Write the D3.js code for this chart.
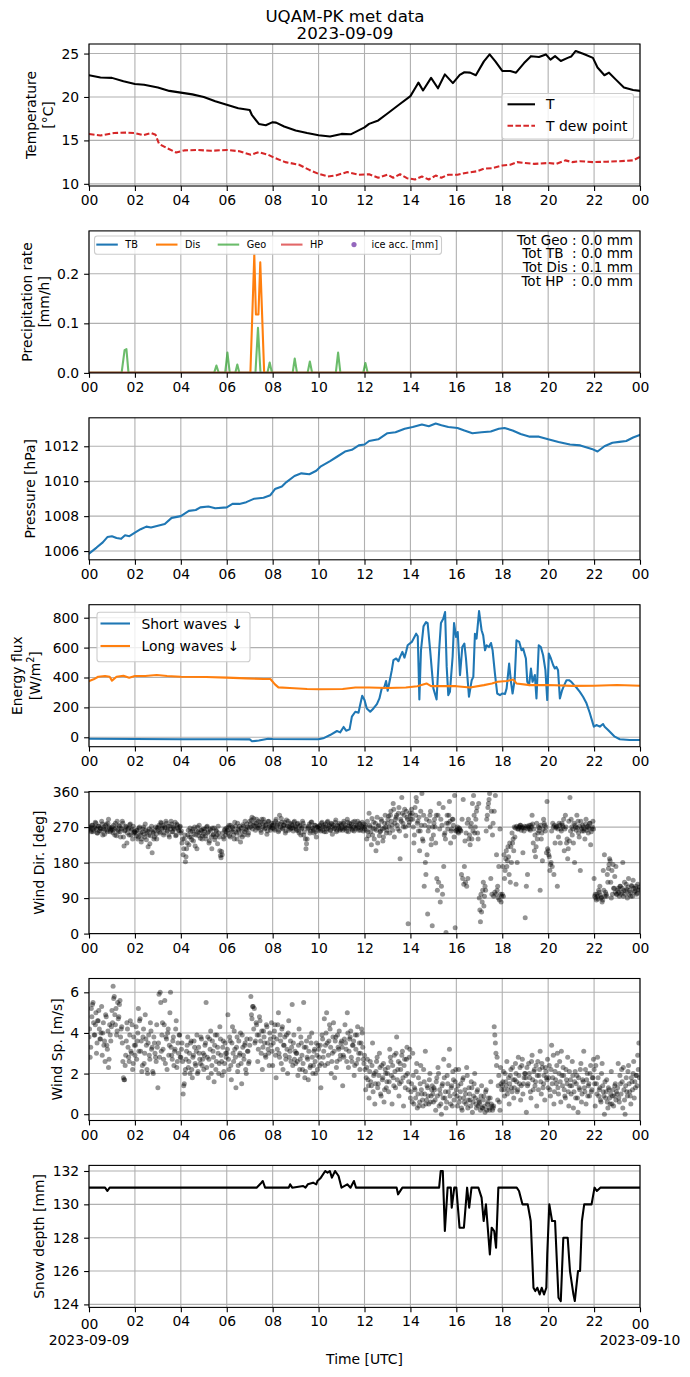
<!DOCTYPE html>
<html><head><meta charset="utf-8">
<script src="https://cdn.jsdelivr.net/npm/d3@7"></script>
<style>body{margin:0;background:#fff}</style>
</head><body><svg id="c" width="690" height="1377" xmlns="http://www.w3.org/2000/svg"></svg>
<script>
// ---------------- DATA ----------------
const hourTicks = [0,2,4,6,8,10,12,14,16,18,20,22,24];
const tempTicks = [10,15,20,25];
const precTicks = [0,0.1,0.2];
const presTicks = [1006,1008,1010,1012];
const fluxTicks = [0,200,400,600,800];
const dirTicks = [0,90,180,270,360];
const spdTicks = [0,2,4,6];
const snowTicks = [124,126,128,130,132];

const tAir = [[0,22.5],[0.5,22.24],[1,22.2],[1.5,21.8],[2,21.5],[2.4,21.4],[3,21.1],[3.5,20.7],[4,20.5],[4.5,20.3],[5,20.0],[5.5,19.5],[6,19.1],[6.5,18.7],[7,18.5],[7.1,17.9],[7.4,16.9],[7.7,16.75],[8,17.1],[8.15,17.05],[8.5,16.6],[9,16.15],[9.5,15.85],[10,15.6],[10.5,15.45],[11,15.75],[11.4,15.7],[12,16.5],[12.2,16.9],[12.6,17.3],[13,18.1],[13.5,19.1],[14,20.1],[14.25,21.2],[14.35,21.65],[14.55,20.75],[14.9,22.2],[15.2,21.0],[15.5,22.6],[15.85,21.6],[16.15,22.55],[16.35,22.85],[16.6,22.8],[16.85,22.5],[17.2,24.1],[17.45,24.9],[17.7,24.1],[18,23.0],[18.35,23.0],[18.6,22.8],[18.95,23.9],[19.25,24.7],[19.6,24.6],[19.9,24.9],[20.1,24.3],[20.3,24.7],[20.55,24.15],[20.85,24.5],[21,24.65],[21.2,25.3],[21.55,24.95],[21.95,24.5],[22.15,23.4],[22.45,22.5],[22.65,22.8],[22.95,22.0],[23.3,21.1],[23.7,20.8],[24,20.7]];
const tDew = [[0,15.73],[0.5,15.57],[1.1,15.85],[1.65,15.9],[2,15.85],[2.35,15.6],[2.7,15.85],[2.9,15.65],[3.05,14.6],[3.4,14.1],[3.8,13.6],[4.15,13.85],[4.7,13.9],[5.3,13.8],[6,13.9],[6.55,13.75],[7.05,13.35],[7.4,13.65],[7.8,13.35],[8.1,12.97],[8.55,12.5],[9.15,12.2],[9.6,11.6],[10,11.15],[10.4,10.85],[10.75,10.97],[11.25,11.35],[11.75,11.05],[12.2,11.1],[12.6,10.7],[13,11.05],[13.25,10.7],[13.55,11.1],[13.85,10.65],[14.2,10.5],[14.5,10.85],[14.8,10.5],[15.1,10.95],[15.35,10.7],[15.65,11.05],[16.05,11.05],[16.4,11.25],[16.9,11.45],[17.2,11.75],[17.55,11.8],[18,12.1],[18.35,12.2],[18.65,12.5],[19.0,12.4],[19.4,12.3],[20,12.4],[20.35,12.3],[20.75,12.7],[21.05,12.5],[21.4,12.6],[21.95,12.5],[22.55,12.55],[23.1,12.6],[23.7,12.7],[24,13.1]];

const precTB = [[0,0],[24,0]];
const precDis = [[0,0],[7.03,0],[7.2,0.239],[7.27,0.118],[7.38,0.118],[7.46,0.223],[7.63,0],[24,0]];
const precGeo = [[0,0],[1.42,0],[1.55,0.046],[1.63,0.048],[1.72,0],[5.45,0],[5.55,0.015],[5.65,0],[5.93,0],[6.03,0.041],[6.13,0],[6.37,0],[6.46,0.017],[6.55,0],[7.25,0],[7.36,0.091],[7.47,0],[7.77,0],[7.87,0.021],[7.97,0],[8.87,0],[8.96,0.029],[9.06,0],[9.52,0],[9.62,0.023],[9.72,0],[10.75,0],[10.85,0.041],[10.95,0],[11.94,0],[12.04,0.02],[12.14,0],[24,0]];
const precHP = [[0,0],[24,0]];
const totals = ["Tot Geo : 0.0 mm","Tot TB  : 0.0 mm","Tot Dis : 0.1 mm","Tot HP  : 0.0 mm"];

const pressure = [[0,1005.85],[0.33,1006.2],[0.6,1006.5],[0.8,1006.8],[1.0,1006.85],[1.2,1006.75],[1.4,1006.7],[1.57,1006.9],[1.76,1006.85],[2,1007.05],[2.25,1007.25],[2.5,1007.4],[2.7,1007.35],[3.0,1007.45],[3.3,1007.55],[3.6,1007.9],[4,1008.0],[4.35,1008.3],[4.65,1008.35],[4.85,1008.5],[5.2,1008.55],[5.5,1008.45],[6,1008.5],[6.25,1008.7],[6.55,1008.7],[6.85,1008.8],[7.2,1009.0],[7.6,1009.05],[7.9,1009.2],[8.1,1009.55],[8.4,1009.7],[8.6,1009.95],[8.95,1010.3],[9.25,1010.45],[9.6,1010.4],[9.9,1010.6],[10.1,1010.85],[10.5,1011.15],[10.8,1011.4],[11.15,1011.7],[11.45,1011.8],[11.75,1012.05],[12,1012.1],[12.2,1012.3],[12.6,1012.4],[13,1012.75],[13.35,1012.8],[13.75,1013.0],[14.1,1013.1],[14.5,1013.25],[14.8,1013.15],[15.1,1013.3],[15.35,1013.2],[15.65,1013.1],[16.05,1013.05],[16.35,1012.9],[16.7,1012.75],[17.1,1012.8],[17.5,1012.85],[17.85,1013.0],[18.1,1013.05],[18.45,1012.9],[18.8,1012.7],[19.2,1012.55],[19.6,1012.55],[20,1012.4],[20.45,1012.25],[20.95,1012.1],[21.4,1012.05],[21.9,1011.85],[22.15,1011.7],[22.45,1012.0],[22.8,1012.2],[23.1,1012.25],[23.4,1012.3],[23.7,1012.5],[24,1012.65]];

const shortWaves = [[0,-10],[2,-12],[4,-13],[6,-13],[7.0,-14],[7.1,-27],[7.4,-22],[7.8,-10],[8,-12],[10,-13],[10.2,-7],[10.5,15],[10.8,42],[10.94,33],[11.09,69],[11.2,44],[11.35,53],[11.45,138],[11.6,171],[11.74,164],[11.8,209],[11.9,278],[12.0,249],[12.1,193],[12.25,171],[12.39,193],[12.54,222],[12.65,260],[12.75,327],[12.86,333],[12.94,376],[13.01,311],[13.09,371],[13.19,449],[13.26,516],[13.38,527],[13.48,509],[13.55,538],[13.65,571],[13.74,533],[13.81,571],[13.88,616],[14.06,638],[14.25,693],[14.32,676],[14.39,253],[14.46,582],[14.57,742],[14.68,771],[14.75,764],[14.86,582],[15.0,327],[15.14,253],[15.26,604],[15.33,764],[15.43,793],[15.51,838],[15.58,471],[15.65,282],[15.72,304],[15.84,542],[15.9,764],[15.99,671],[16.06,704],[16.16,416],[16.26,604],[16.35,627],[16.42,527],[16.55,271],[16.67,382],[16.74,404],[16.81,693],[16.88,660],[16.99,844],[17.1,716],[17.17,682],[17.25,582],[17.32,616],[17.42,604],[17.51,631],[17.58,582],[17.68,427],[17.78,293],[17.9,282],[18.01,293],[18.12,289],[18.19,327],[18.3,493],[18.38,371],[18.45,293],[18.54,382],[18.62,649],[18.74,638],[18.84,582],[18.91,593],[19.03,527],[19.09,371],[19.17,349],[19.25,460],[19.32,371],[19.42,416],[19.49,260],[19.59,616],[19.68,604],[19.78,549],[19.88,449],[19.96,249],[20.03,560],[20.12,527],[20.22,482],[20.29,460],[20.36,471],[20.43,449],[20.51,260],[20.61,316],[20.7,349],[20.8,382],[20.91,382],[21.01,371],[21.13,349],[21.23,333],[21.38,304],[21.52,271],[21.67,227],[21.81,164],[21.88,127],[21.99,71],[22.1,82],[22.25,71],[22.39,89],[22.46,71],[22.61,49],[22.75,27],[22.9,4],[23.12,-13],[23.55,-18],[24,-18]];
const longWaves = [[0,376],[0.2,388],[0.4,405],[0.7,410],[0.9,405],[1.0,379],[1.2,405],[1.5,412],[1.75,399],[2,410],[2.45,410],[2.95,417],[3.4,410],[4,405],[5.1,403],[6,399],[6.85,394],[7.6,390],[7.9,390],[8.1,354],[8.25,334],[8.75,330],[9.5,323],[10,321],[11.05,323],[11.6,333],[12.2,333],[13,330],[13.8,333],[14.3,342],[14.7,360],[14.9,342],[16,342],[16.6,333],[17.2,349],[17.55,360],[17.8,371],[18.2,376],[18.48,387],[18.62,360],[19.2,349],[20,350],[21.05,344],[22,345],[23,350],[24,345]];

// wind direction: two interleaved sample sets, 20 samples per hour each
const windDirA = [
[265,270,258,275,262,268,280,255,272,260,266,285,250,270,263,278,258,290,268,262],
[270,255,265,280,248,262,275,258,268,285,245,260,272,230,265,250,278,262,240,255],
[258,248,262,245,270,255,240,265,252,278,238,260,250,228,262,205,255,245,270,240],
[262,275,255,280,268,250,270,285,260,272,245,265,278,258,268,282,250,275,262,270],
[255,230,200,240,182,215,250,225,268,245,260,235,270,250,215,258,275,242,262,248],
[252,265,240,272,258,235,262,215,250,268,245,260,228,255,210,192,200,245,262,250],
[268,255,275,245,262,270,250,282,258,240,265,272,232,260,276,250,285,262,270,255],
[285,270,295,275,280,262,290,272,268,282,256,278,290,265,275,252,284,270,262,280],
[268,280,262,290,275,258,300,270,282,265,276,255,288,272,262,280,268,275,260,285],
[270,262,280,255,275,265,285,250,272,215,240,268,278,260,283,266,255,275,245,270],
[268,275,260,282,270,258,278,265,285,272,262,280,252,275,268,288,262,272,280,265],
[275,262,285,270,268,290,258,280,272,265,283,260,275,270,285,262,278,268,282,260],
[265,275,240,258,305,270,225,250,282,265,210,295,272,248,260,285,235,268,300,255],
[280,298,255,310,275,330,245,290,300,265,320,190,285,305,270,315,248,295,25,282],
[300,315,290,230,320,345,280,260,210,310,355,235,120,180,290,50,270,300,225,20],
[250,290,230,140,300,330,80,120,100,170,255,3,300,280,335,230,265,290,245,15],
[262,270,255,265,260,290,340,170,130,120,140,240,225,280,330,350,255,290,320,240],
[90,30,55,110,70,120,260,300,330,355,140,100,280,310,350,200,120,170,265,80],
[100,95,140,190,170,220,150,130,180,230,210,245,125,180,265,270,275,268,205,260],
[40,120,150,270,265,275,300,230,210,195,280,255,260,110,240,185,290,275,270,335],
[210,195,175,260,280,150,230,270,120,245,275,265,280,270,210,300,230,190,285,345],
[290,250,230,180,270,300,285,245,160,265,275,260,240,290,270,255,280,225,265,285],
[140,100,85,95,110,120,90,80,160,200,105,95,130,175,185,90,100,115,145,170],
[100,115,95,120,105,180,110,100,125,90,140,110,95,120,135,105,115,100,125,110]];
const windDirB = [
[268,262,275,258,270,282,265,255,272,268,260,278,266,252,274,262,280,270,258,265],
[262,275,250,268,285,258,272,245,265,280,222,262,270,255,268,276,250,265,272,258],
[255,262,240,268,250,232,258,270,245,262,255,220,265,248,272,258,240,262,252,268],
[270,258,282,265,275,255,268,280,262,250,272,285,258,270,265,248,278,268,260,272],
[260,240,215,250,195,230,262,245,258,238,265,252,222,260,270,248,255,262,240,265],
[260,248,270,255,230,265,245,268,252,238,262,250,272,245,198,208,255,240,265,258],
[262,270,248,275,258,265,240,272,255,280,262,250,268,245,272,258,265,278,250,268],
[278,288,265,292,272,280,268,285,275,262,290,270,282,268,278,260,285,272,268,275],
[275,265,285,270,280,262,278,292,268,275,282,260,272,285,270,265,278,268,282,272],
[265,278,260,272,250,268,280,258,240,228,265,272,255,282,268,262,275,258,270,262],
[272,265,280,262,275,270,258,282,268,275,262,278,270,265,282,258,275,268,262,278],
[268,280,265,275,260,282,272,268,278,262,270,285,265,275,268,280,262,272,270,278],
[270,262,285,248,275,258,292,268,240,280,262,230,275,258,290,265,245,280,270,262],
[290,270,300,285,262,315,280,295,275,305,260,290,345,280,300,270,310,290,275,305],
[290,305,270,250,300,335,285,295,260,275,240,300,275,150,200,260,285,310,240,270],
[280,270,300,110,130,265,290,275,320,250,240,280,265,300,285,260,290,275,350,260],
[265,258,268,262,150,140,125,235,255,280,290,250,270,240,260,300,270,310,255,330],
[60,100,80,130,95,110,290,320,340,270,310,250,95,105,100,110,90,85,100,95],
[170,200,160,210,185,195,230,220,255,240,270,268,272,265,270,275,262,270,268,272],
[268,272,265,275,262,270,278,265,250,220,240,270,268,275,255,265,280,260,205,215],
[200,160,180,170,270,275,268,272,265,280,230,260,275,290,265,270,240,215,235,260],
[270,265,280,275,262,268,255,272,285,260,270,265,278,262,272,268,280,258,270,265],
[95,90,100,88,105,98,92,85,110,95,100,150,165,190,130,160,175,115,105,100],
[110,105,120,100,115,95,130,108,112,118,100,105,122,95,115,108,120,102,112,118]];

// wind speed: two interleaved sample sets, 20 samples per hour each
const windSpdA = [
[3.8,2.8,5.2,5.4,4.5,3.9,5.0,3.5,4.6,4.2,3.7,5.3,4.0,3.4,2.6,4.8,3.2,2.3,4.4,3.6],
[5.1,6.3,5.8,4.4,3.9,5.5,4.8,5.6,4.2,3.5,1.8,1.7,2.9,4.5,3.3,2.6,4.6,3.0,2.2,3.8],
[2.9,4.3,3.6,5.2,4.6,3.1,2.1,3.8,2.5,4.9,3.4,2.0,3.9,2.7,4.1,3.3,2.0,3.5,2.8,4.4],
[1.3,5.9,6.0,3.1,4.5,2.7,5.6,3.8,2.2,4.2,3.4,6.0,2.9,3.6,2.4,3.2,4.6,2.6,3.0,3.9],
[2.8,3.5,1.0,1.5,2.2,3.1,3.8,2.6,2.0,3.6,1.8,2.9,3.3,2.4,3.9,2.1,3.0,2.5,3.7,2.7],
[2.2,3.4,5.5,2.8,1.8,3.7,4.1,2.4,3.1,1.6,3.9,2.6,3.3,2.0,4.3,2.9,1.9,3.6,2.5,3.0],
[3.0,4.9,2.2,3.6,1.7,4.3,2.6,3.2,1.3,3.8,2.4,2.9,4.0,1.5,3.3,2.7,3.5,2.0,3.1,2.5],
[3.4,5.8,4.7,5.3,5.2,3.6,4.4,2.6,3.9,4.6,3.0,2.2,4.1,3.5,2.8,4.3,3.2,2.4,3.7,4.5],
[2.4,3.8,4.4,1.8,3.2,5.0,2.8,3.6,4.2,2.2,3.4,2.9,3.9,2.0,4.6,3.1,2.6,5.4,3.5,2.7],
[2.5,3.0,1.9,4.2,2.7,3.5,2.2,5.5,1.8,3.3,2.8,1.7,3.8,2.4,4.0,2.0,3.1,2.6,3.5,2.2],
[3.2,2.4,1.3,3.9,2.8,4.7,3.4,5.0,2.5,3.6,4.2,2.0,3.0,4.5,1.8,3.8,2.6,3.3,4.1,2.9],
[3.6,1.4,2.8,4.4,3.2,5.0,2.3,3.7,4.1,2.6,3.4,1.9,3.9,2.5,4.3,3.0,2.2,3.5,4.0,2.7],
[2.9,1.2,2.3,1.7,0.8,2.6,1.4,3.5,1.9,0.5,2.1,2.8,1.5,3.0,1.0,2.4,1.8,0.6,2.2,1.3],
[2.0,1.1,3.2,2.6,0.5,1.8,2.9,1.3,3.8,2.2,0.9,2.5,1.6,3.1,0.4,2.7,1.9,3.3,1.2,2.8],
[0.8,1.5,3.0,0.5,1.2,2.1,0.3,1.8,0.6,2.4,1.0,0.4,1.6,3.1,0.7,1.3,0.5,2.0,0.9,1.4],
[0.6,1.2,0.2,1.8,2.3,0.4,1.0,0.0,1.5,2.7,0.8,0.3,1.9,1.1,3.2,0.5,1.4,2.1,0.7,1.6],
[1.2,0.4,2.2,0.8,1.5,0.2,1.8,0.6,1.0,2.3,0.3,1.3,0.7,1.6,0.1,0.9,2.0,0.5,1.1,0.4],
[0.6,0.2,1.4,0.3,0.9,0.1,1.2,0.5,0.8,0.2,1.6,0.4,0.3,4.3,3.5,2.4,0.7,1.9,0.2,1.5],
[1.4,2.1,0.9,1.6,2.6,1.2,0.5,1.9,1.3,2.3,0.8,1.7,2.0,1.1,2.8,1.5,0.7,2.4,1.0,1.8],
[2.0,0.1,1.4,2.5,1.8,0.8,2.9,1.2,2.2,1.6,0.4,2.6,1.9,3.1,1.0,2.3,1.5,0.7,2.1,1.7],
[1.3,2.4,0.9,3.4,1.8,0.5,2.1,1.5,3.0,1.0,2.6,0.6,1.9,2.3,1.2,0.8,1.7,2.8,0.4,1.4],
[1.0,2.6,0.3,1.6,0.8,1.9,0.1,1.3,2.2,0.6,1.7,3.1,1.1,0.5,2.0,1.4,0.9,2.4,1.2,1.8],
[2.2,0.4,1.5,2.8,0.9,1.3,0.6,2.5,1.1,0.0,0.8,1.7,0.3,1.2,0.5,2.1,0.9,0.4,1.4,0.7],
[1.0,2.5,0.6,1.5,2.2,0.3,1.2,0.0,1.8,0.9,2.4,1.1,0.5,1.6,2.0,0.8,1.3,1.9,2.9,3.5]];
const windSpdB = [
[4.2,3.3,4.8,5.5,3.9,4.4,3.0,4.6,5.1,3.7,4.0,2.9,4.5,3.6,4.9,3.4,4.1,2.7,3.9,4.3],
[4.5,5.7,4.9,5.2,4.1,4.7,5.4,3.8,4.3,2.6,1.7,2.4,3.6,4.2,2.8,3.9,3.1,4.4,2.5,3.4],
[3.4,2.7,4.0,3.1,4.7,3.6,2.4,4.2,3.0,3.7,2.2,3.5,2.9,4.5,3.2,2.1,3.8,3.0,2.6,3.3],
[3.5,2.8,5.5,3.9,3.2,4.4,2.5,3.7,4.0,2.9,5.0,3.3,2.7,3.8,3.1,4.2,2.3,3.5,3.9,2.8],
[3.2,2.6,1.4,2.0,2.7,3.4,2.3,3.0,3.5,2.2,2.8,3.6,2.5,3.1,2.0,3.3,2.7,3.8,2.4,3.0],
[2.9,3.5,2.3,3.8,2.7,3.2,2.0,3.6,2.8,3.4,2.2,3.9,3.0,2.5,3.7,2.6,3.3,2.1,3.5,2.8],
[3.2,2.7,3.8,2.4,3.5,3.0,4.1,2.8,3.3,2.1,3.6,3.0,2.5,3.9,2.9,3.4,2.2,3.7,3.1,2.6],
[3.7,4.9,5.3,4.2,3.5,4.5,3.9,3.2,4.8,3.6,4.1,3.3,3.8,2.9,4.4,3.5,3.0,4.0,3.4,3.1],
[3.5,4.1,2.9,3.7,4.4,3.0,3.9,2.5,4.3,3.4,3.8,2.7,3.2,4.0,2.8,3.6,3.3,2.4,3.9,3.1],
[3.0,2.6,3.4,2.2,3.8,2.9,2.5,3.3,2.1,3.6,2.7,3.1,2.3,3.5,2.8,2.4,3.2,2.0,2.9,3.4],
[2.8,3.4,2.5,3.7,3.1,2.4,4.0,3.5,2.9,4.4,3.3,2.6,3.8,3.1,3.6,2.3,3.9,3.2,2.7,3.5],
[3.3,2.9,3.7,3.5,2.6,4.0,3.1,3.8,2.8,3.4,3.6,2.4,3.2,3.9,2.7,3.5,3.0,4.2,3.3,2.5],
[2.2,1.8,2.7,1.4,2.1,1.6,2.4,1.1,2.0,1.5,2.6,1.3,1.9,2.3,0.9,1.7,2.5,1.2,2.0,1.6],
[2.3,1.6,2.8,1.9,2.4,1.4,2.1,3.0,1.7,2.6,1.5,2.2,2.9,1.8,2.4,1.3,2.7,2.0,1.6,3.2],
[1.1,0.6,1.9,1.3,0.8,2.5,1.0,0.4,1.5,1.2,0.7,2.2,1.0,0.5,1.4,0.9,1.7,0.6,1.2,1.0],
[1.3,0.7,1.6,0.9,2.0,1.2,0.5,1.4,0.8,1.8,1.1,0.6,1.5,2.4,0.9,1.3,0.4,1.7,1.0,2.2],
[0.9,1.4,0.6,1.1,0.3,1.7,0.8,1.2,0.5,1.9,0.7,1.0,0.4,1.3,0.6,1.5,0.8,0.3,1.2,0.7],
[0.5,0.9,0.3,0.7,0.4,1.1,0.2,0.6,0.3,0.8,0.5,0.2,0.4,3.9,3.0,2.8,1.4,0.6,2.3,1.2],
[1.6,1.2,2.0,1.4,1.0,1.8,1.5,2.2,1.1,1.7,1.3,2.5,1.6,1.2,1.9,2.3,1.4,2.7,1.5,2.0],
[1.8,2.3,1.5,2.0,1.1,2.6,1.7,2.1,1.4,2.4,1.9,1.2,2.2,1.6,2.5,1.3,1.9,2.3,1.8,2.7],
[1.8,1.2,2.2,1.5,2.9,1.1,1.7,2.4,1.3,2.0,1.6,3.1,1.4,1.9,0.9,2.2,1.5,1.1,2.1,1.7],
[1.4,1.9,1.1,2.1,1.5,0.8,1.8,1.2,2.5,1.0,1.6,1.3,2.2,1.7,0.9,1.5,2.0,1.1,1.8,2.7],
[1.5,2.4,1.0,1.8,1.2,0.7,2.0,1.4,0.9,1.6,1.1,0.6,1.3,0.8,1.0,0.5,1.2,0.9,1.5,1.1],
[1.3,0.8,1.9,1.0,1.6,2.3,0.7,1.4,1.1,2.1,1.5,0.9,1.8,1.2,2.6,1.6,1.9,1.4,2.2,1.8]];

const snowDepth = [[0,131],[0.7,131],[0.8,130.8],[0.9,131],[7.3,131],[7.51,131.3],[7.57,131.4],[7.67,131],[8.7,131],[8.76,131.2],[8.85,131],[9.33,131.1],[9.43,131],[9.53,131.2],[9.76,131.3],[9.9,131.2],[9.95,131.4],[10.1,131.6],[10.29,132.0],[10.39,131.9],[10.49,132],[10.58,131.6],[10.72,132],[10.87,131.7],[11.0,131],[11.25,131.2],[11.39,131],[11.54,131.4],[11.63,131],[13.4,131],[13.46,130.6],[13.65,131],[15.25,131],[15.32,132],[15.41,132],[15.5,128.4],[15.62,131],[15.76,131],[15.8,129.8],[15.91,131],[16.0,131],[16.14,128.6],[16.33,128.6],[16.47,131],[16.56,129.8],[16.66,131],[16.96,131],[17.1,130.4],[17.19,129],[17.29,130],[17.46,127],[17.54,128.6],[17.65,128.4],[17.73,127.4],[17.83,131],[18.63,131],[18.73,130.8],[18.88,130],[19.11,130],[19.24,129],[19.36,125],[19.44,124.8],[19.53,125],[19.63,124.6],[19.72,125],[19.82,124.6],[19.92,125],[19.96,127],[20.05,130],[20.17,129],[20.3,129],[20.45,124.4],[20.55,124.2],[20.66,128],[20.85,128],[20.95,126],[21.1,124.6],[21.16,124.2],[21.3,126],[21.39,126],[21.47,129],[21.57,130],[21.89,130],[22.02,131],[22.12,130.8],[22.27,131],[24,131]];

// ---------------- LAYOUT ----------------
const FONT = '"DejaVu Sans", sans-serif';
const FS = 13.9;
const L = 89, R = 640, PH = 142;
const tops = [44, 230.9, 417.8, 604.7, 791.6, 978.5, 1165.4];
const svg = d3.select('#c');
svg.append('rect').attr('width',690).attr('height',1377).attr('fill','#fff');
const defs = svg.append('defs');
const x = d3.scaleLinear().domain([0,24]).range([L,R]);
const fmtH = h => String(h % 24).padStart(2,'0');

function makePanel(i, domain, yticks) {
  const top = tops[i], bot = top + PH;
  const y = d3.scaleLinear().domain(domain).range([bot, top]);
  defs.append('clipPath').attr('id','clip'+i).append('rect')
    .attr('x',L).attr('y',top).attr('width',R-L).attr('height',PH);
  const g = svg.append('g');
  const grid = g.append('g').attr('stroke','#b0b0b0').attr('stroke-width',1.1);
  grid.selectAll('line.v').data(hourTicks).join('line').attr('class','v')
    .attr('x1',d=>x(d)).attr('x2',d=>x(d)).attr('y1',top).attr('y2',bot);
  grid.selectAll('line.h').data(yticks).join('line').attr('class','h')
    .attr('x1',L).attr('x2',R).attr('y1',d=>y(d)).attr('y2',d=>y(d));
  const plot = g.append('g').attr('clip-path',`url(#clip${i})`);
  return {g, plot, y, top, bot, yticks};
}
function finish(p, yfmt) {
  p.g.append('rect').attr('x',L).attr('y',p.top).attr('width',R-L).attr('height',PH)
    .attr('fill','none').attr('stroke','#000').attr('stroke-width',1.1);
  const ax = p.g.append('g').attr('transform',`translate(0,${p.bot})`)
    .call(d3.axisBottom(x).tickValues(hourTicks).tickFormat(fmtH).tickSize(4.9).tickPadding(4.3));
  const ay = p.g.append('g').attr('transform',`translate(${L},0)`)
    .call(d3.axisLeft(p.y).tickValues(p.yticks).tickFormat(yfmt).tickSize(4.9).tickPadding(4.9));
  [ax, ay].forEach(a => {
    a.select('.domain').remove();
    a.attr('font-family',FONT).attr('font-size',FS);
    a.selectAll('line').attr('stroke','#000').attr('stroke-width',1.1);
    a.selectAll('text').attr('fill','#000');
  });
  return ax;
}
function ylabel(p, lines, xs) {
  const cy = (p.top + p.bot) / 2;
  lines.forEach((t, k) => {
    const el = svg.append('text').attr('transform',`translate(${xs[k]},${cy}) rotate(-90)`)
      .attr('text-anchor','middle').attr('dominant-baseline','central')
      .attr('font-family',FONT).attr('font-size',FS).attr('fill','#000');
    if (typeof t === 'string') el.text(t);
    else t(el);
  });
}
const lineGen = p => d3.line().x(d=>x(d[0])).y(d=>p.y(d[1]));
function drawLine(p, data, color, opts={}) {
  const path = p.plot.append('path').datum(data).attr('d', lineGen(p))
    .attr('fill','none').attr('stroke',color).attr('stroke-width', opts.w || 2.08)
    .attr('stroke-linejoin','round').attr('stroke-linecap', opts.dash ? 'butt' : 'square');
  if (opts.dash) path.attr('stroke-dasharray', opts.dash);
  if (opts.op) path.attr('stroke-opacity', opts.op);
  return path;
}
function legendBox(xx, yy, w, h) {
  svg.append('rect').attr('x',xx).attr('y',yy).attr('width',w).attr('height',h)
    .attr('rx',2.8).attr('fill','#fff').attr('fill-opacity',0.8)
    .attr('stroke','#cccccc').attr('stroke-width',1.1);
}
// sample k of hour h in a set of n samples per hour; offset shifts set B by half a step
function flat(arr, offset) {
  const out = [];
  arr.forEach((row, h) => row.forEach((v, k) => out.push([h + (k + offset) / row.length, v])));
  return out;
}
function scatter(p, pts) {
  p.plot.append('g').selectAll('circle').data(pts).join('circle')
    .attr('cx',d=>x(d[0])).attr('cy',d=>p.y(d[1])).attr('r',2.5)
    .attr('fill','#000').attr('fill-opacity',0.42);
}

// Title
svg.append('text').attr('x',345).attr('y',16.5).attr('text-anchor','middle').attr('dominant-baseline','central')
  .attr('font-family',FONT).attr('font-size',16.67).text('UQAM-PK met data');
svg.append('text').attr('x',345).attr('y',33.3).attr('text-anchor','middle').attr('dominant-baseline','central')
  .attr('font-family',FONT).attr('font-size',16.67).text('2023-09-09');

// Panel 1: temperature
const p1 = makePanel(0, [9.75, 26.1], tempTicks);
drawLine(p1, tDew, '#d62728', {dash:'5.55,2.4'});
drawLine(p1, tAir, '#000');
finish(p1, d3.format('d'));
ylabel(p1, ['Temperature','[°C]'], [31, 47.7]);
legendBox(502, 93.5, 131.5, 45.5);
svg.append('line').attr('x1',507.5).attr('x2',535).attr('y1',104.3).attr('y2',104.3).attr('stroke','#000').attr('stroke-width',2.08);
svg.append('line').attr('x1',507.5).attr('x2',535).attr('y1',125.7).attr('y2',125.7).attr('stroke','#d62728').attr('stroke-width',2.08).attr('stroke-dasharray','5.55,2.4');
[['T',104.3],['T dew point',125.7]].forEach(([t,yy]) => svg.append('text').attr('x',546).attr('y',yy)
  .attr('dominant-baseline','central').attr('font-family',FONT).attr('font-size',FS).text(t));

// Panel 2: precipitation
const p2 = makePanel(1, [0, 0.2865], precTicks);
drawLine(p2, precTB, '#1f77b4');
drawLine(p2, precDis, '#ff7f0e');
drawLine(p2, precGeo, '#2ca02c', {op:0.7});
drawLine(p2, precHP, '#d62728', {op:0.7});
finish(p2, d3.format('.1f'));
ylabel(p2, ['Precipitation rate','[mm/h]'], [27, 43.7]);
legendBox(94.5, 236, 347, 18.3);
const legItems = [['TB','#1f77b4',96.3,1],['Dis','#ff7f0e',156,1],['Geo','#2ca02c',217.7,0.7],['HP','#d62728',281,0.7]];
legItems.forEach(([t,c,x0,op]) => {
  svg.append('line').attr('x1',x0).attr('x2',x0+21.5).attr('y1',244.6).attr('y2',244.6)
    .attr('stroke',c).attr('stroke-opacity',op).attr('stroke-width',2.08);
  svg.append('text').attr('x',x0+29).attr('y',244.6).attr('dominant-baseline','central')
    .attr('font-family',FONT).attr('font-size',9.72).text(t);
});
svg.append('circle').attr('cx',354).attr('cy',244.6).attr('r',2.6).attr('fill','#9467bd');
svg.append('text').attr('x',371.5).attr('y',244.6).attr('dominant-baseline','central')
  .attr('font-family',FONT).attr('font-size',9.72).text('ice acc. [mm]');
totals.forEach((t,k) => svg.append('text').attr('x',633).attr('y',239.5 + k*13.95)
  .attr('text-anchor','end').attr('dominant-baseline','central').attr('xml:space','preserve')
  .style('white-space','pre').attr('font-family',FONT).attr('font-size',13.5).text(t));

// Panel 3: pressure
const p3 = makePanel(2, [1005.5, 1013.63], presTicks);
drawLine(p3, pressure, '#1f77b4');
finish(p3, d3.format('d'));
ylabel(p3, ['Pressure [hPa]'], [30]);

// Panel 4: energy flux
const p4 = makePanel(3, [-63, 887], fluxTicks);
drawLine(p4, shortWaves, '#1f77b4');
drawLine(p4, longWaves, '#ff7f0e');
finish(p4, d3.format('d'));
ylabel(p4, ['Energy flux', el => {
  el.append('tspan').text('[W/m');
  el.append('tspan').attr('dy',-5).attr('font-size',9.7).text('2');
  el.append('tspan').attr('dy',5).text(']');
}], [16.5, 34.5]);
legendBox(97, 612.3, 153, 49.4);
svg.append('line').attr('x1',100.5).attr('x2',130).attr('y1',623.5).attr('y2',623.5).attr('stroke','#1f77b4').attr('stroke-width',2.08);
svg.append('line').attr('x1',100.5).attr('x2',130).attr('y1',646).attr('y2',646).attr('stroke','#ff7f0e').attr('stroke-width',2.08);
[['Short waves ↓',623.5],['Long waves ↓',646]].forEach(([t,yy]) => svg.append('text').attr('x',141.5).attr('y',yy)
  .attr('dominant-baseline','central').attr('font-family',FONT).attr('font-size',FS).text(t));

// Panel 5: wind direction
const p5 = makePanel(4, [0, 360], dirTicks);
scatter(p5, flat(windDirA, 0).concat(flat(windDirB, 0.5)));
finish(p5, d3.format('d'));
ylabel(p5, ['Wind Dir. [deg]'], [38.5]);

// Panel 6: wind speed
const p6 = makePanel(5, [-0.31, 6.68], spdTicks);
scatter(p6, flat(windSpdA, 0).concat(flat(windSpdB, 0.5)));
finish(p6, d3.format('d'));
ylabel(p6, ['Wind Sp. [m/s]'], [56.5]);

// Panel 7: snow depth
const p7 = makePanel(6, [123.82, 132.335], snowTicks);
drawLine(p7, snowDepth, '#000');
const ax7 = finish(p7, d3.format('d'));
ax7.selectAll('.tick text').filter(d => d === 0 || d === 24).attr('y', 12.2);
[['2023-09-09',0],['2023-09-10',24]].forEach(([t,h]) => svg.append('text').attr('x',x(h)).attr('y',1340)
  .attr('text-anchor','middle').attr('dominant-baseline','central').attr('font-family',FONT).attr('font-size',FS).text(t));
ylabel(p7, ['Snow depth [mm]'], [38.5]);
svg.append('text').attr('x',364.5).attr('y',1359).attr('text-anchor','middle').attr('dominant-baseline','central')
  .attr('font-family',FONT).attr('font-size',FS).text('Time [UTC]');
</script></body></html>
